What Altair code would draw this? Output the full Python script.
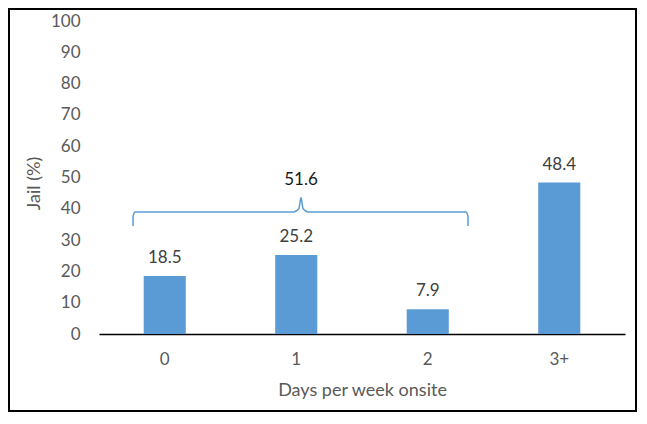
import altair as alt
import pandas as pd

categories = ["0", "1", "2", "3+"]
jail_pct = [18.5, 25.2, 7.9, 48.4]
y_tick_values = [0, 10, 20, 30, 40, 50, 60, 70, 80, 90, 100]

# brace annotation over categories 0-2 (x in category-index units, y in %)
brace_x = [-0.241, -0.241, -0.225, 0.98, 1.02, 1.036, 1.052, 1.09, 2.29, 2.306, 2.306]
brace_y = [34.5, 37.6, 39.0, 39.0, 40.0, 43.6, 40.0, 39.0, 39.0, 37.6, 34.5]
brace_label = ["51.6"]
brace_label_x = [1.036]
brace_label_y = [49.2]

BLUE = "#5B9BD5"
GREY = "#595959"
FONT = "Lato"

W, H = 526, 313

bars_df = pd.DataFrame({"days": categories, "pct": jail_pct})
brace_df = pd.DataFrame({"bx": brace_x, "by": brace_y, "order": list(range(len(brace_x)))})
blabel_df = pd.DataFrame({"bx": brace_label_x, "by": brace_label_y, "t": brace_label})

yscale = alt.Scale(domain=[0, 100], nice=False)
xband = alt.Scale(paddingInner=0.68, paddingOuter=0.34)
bscale = alt.Scale(domain=[-0.5, 3.5], nice=False, zero=False)

x_axis = alt.Axis(title="Days per week onsite", labelAngle=0, ticks=False, tickSize=0,
                  labelPadding=17, domainColor="black", domainWidth=1.5,
                  labelFont=FONT, labelFontSize=17, labelColor=GREY,
                  titleFont=FONT, titleFontSize=18, titleColor=GREY,
                  titleFontWeight="normal", titleY=56, titleBaseline="middle")

y_axis = alt.Axis(title="Jail (%)", values=y_tick_values, grid=False, labelOverlap=False,
                  domain=False, ticks=False, tickSize=0, labelPadding=19,
                  labelFont=FONT, labelFontSize=17, labelColor=GREY,
                  titleFont=FONT, titleFontSize=18, titleColor=GREY,
                  titleFontWeight="normal", titleX=-65, titleY=162,
                  titleBaseline="middle", titleAngle=-90)

bars = alt.Chart(bars_df).mark_bar(color=BLUE).encode(
    x=alt.X("days:N", sort=categories, scale=xband, axis=x_axis),
    y=alt.Y("pct:Q", scale=yscale, axis=y_axis),
)

labels = alt.Chart(bars_df).mark_text(font=FONT, fontSize=17, color="#404040",
                                      baseline="alphabetic", dy=-13).encode(
    x=alt.X("days:N", sort=categories, scale=xband, axis=x_axis),
    y=alt.Y("pct:Q", scale=yscale, axis=y_axis),
    text=alt.Text("pct:Q", format=".1f"),
)

bar_layer = alt.layer(bars, labels)

brace = alt.Chart(brace_df).mark_line(color=BLUE, strokeWidth=1.5, interpolate="monotone").encode(
    x=alt.X("bx:Q", scale=bscale, axis=None),
    y=alt.Y("by:Q", scale=yscale, axis=y_axis),
    order="order:Q",
)

brace_text = alt.Chart(blabel_df).mark_text(font=FONT, fontSize=17, color="#1a1a1a",
                                            baseline="middle").encode(
    x=alt.X("bx:Q", scale=bscale, axis=None),
    y=alt.Y("by:Q", scale=yscale, axis=y_axis),
    text="t:N",
)

brace_layer = alt.layer(brace, brace_text)

frame = alt.Chart(pd.DataFrame({"a": [0]})).mark_rect(filled=False, stroke="black", strokeWidth=2).encode(
    x=alt.value(-90), x2=alt.value(W + 11), y=alt.value(-12), y2=alt.value(H + 77),
)

chart = alt.layer(bar_layer, brace_layer, frame).resolve_scale(x="independent").properties(
    width=W, height=H,
    autosize=alt.AutoSizeParams(type="none"),
    padding={"left": 91, "top": 13, "right": 12, "bottom": 78},
).configure_view(stroke=None)

chart.save("out.html", embed_options={"renderer": "svg", "actions": False})
